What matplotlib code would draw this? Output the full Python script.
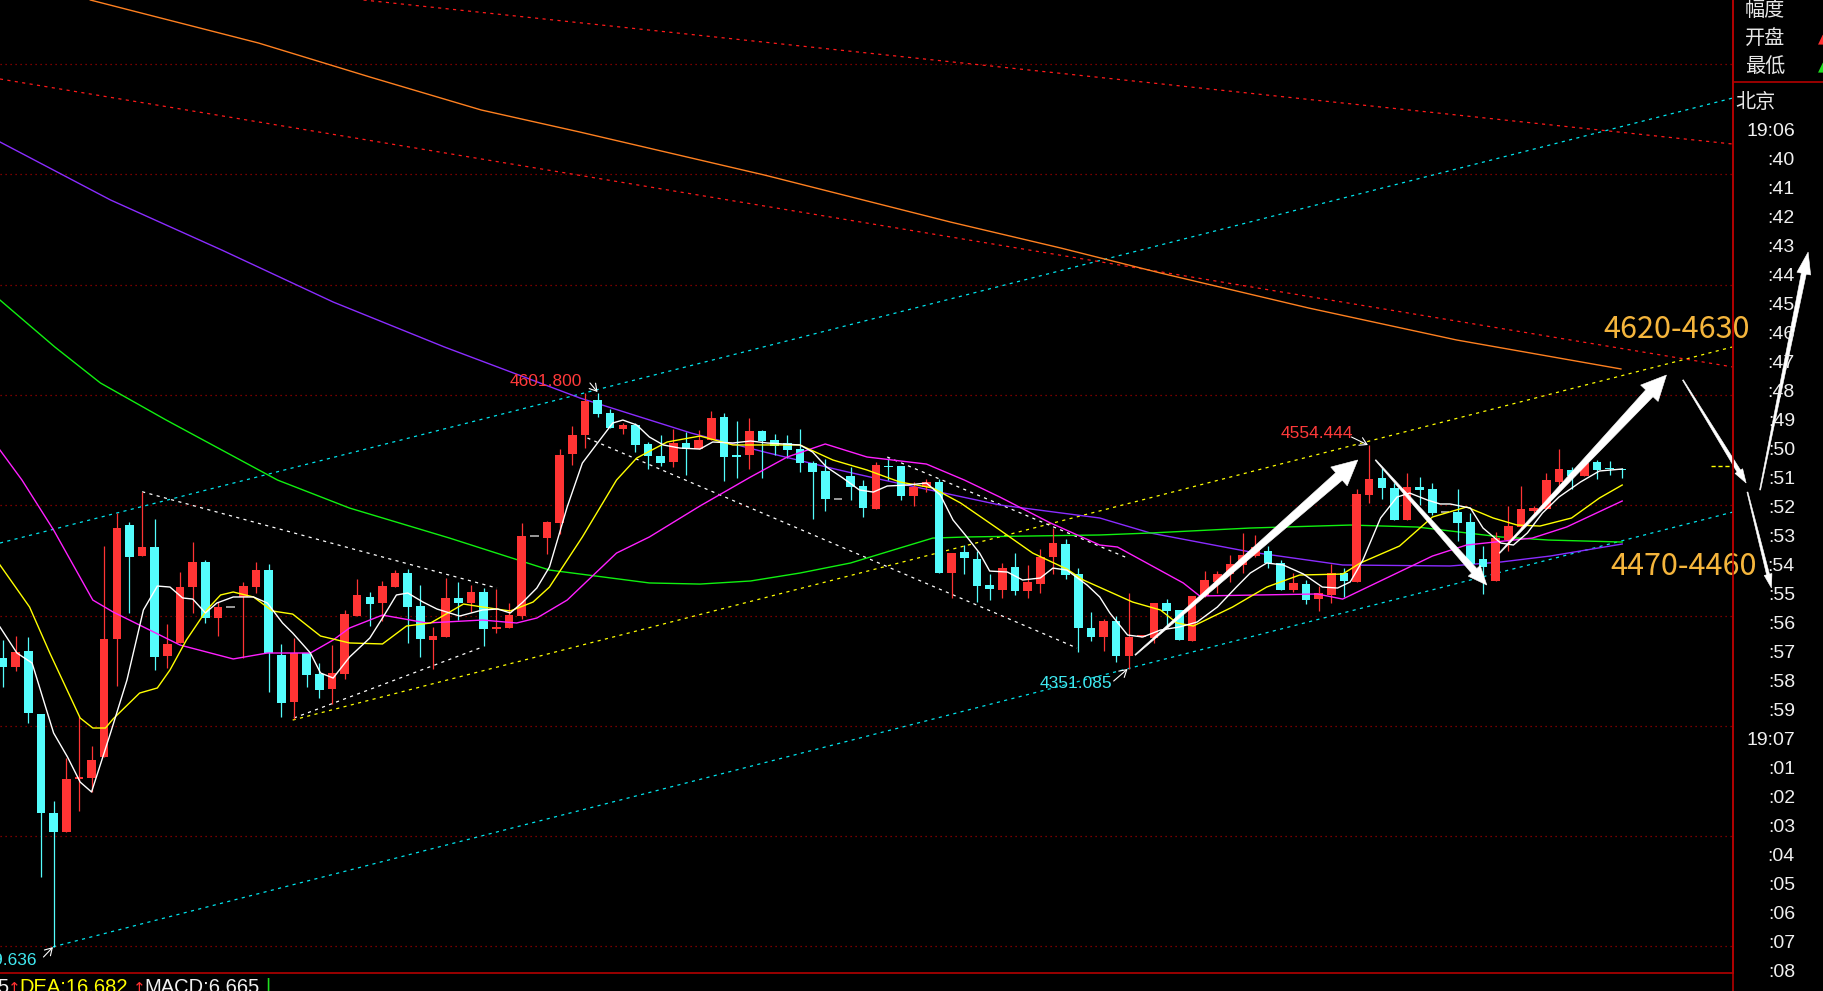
import matplotlib.pyplot as plt
from matplotlib.lines import Line2D
from matplotlib.patches import Polygon
import numpy as np

W, H = 1824, 991

# 1-minute candles, left to right
opens = [4361.2, 4353.0, 4367.8, 4310.7, 4220.7, 4203.4, 4251.5, 4252.9, 4271.4, 4378.7,
         4482.0, 4453.9, 4461.8, 4363.3, 4374.8, 4426.1, 4448.5, 4398.0, 4407.4, 4417.0,
         4426.1, 4441.2, 4364.2, 4321.8, 4366.3, 4347.0, 4333.1, 4347.0, 4399.8, 4416.5,
         4411.6, 4426.1, 4438.2, 4408.6, 4377.8, 4380.8, 4415.6, 4411.0, 4421.3, 4388.0,
         4388.9, 4399.8, 4472.1, 4470.5, 4484.1, 4546.7, 4563.6, 4595.4, 4583.8, 4569.1,
         4572.7, 4555.5, 4544.6, 4539.2, 4556.7, 4550.9, 4559.1, 4579.9, 4545.5, 4545.5,
         4567.3, 4559.1, 4556.7, 4550.7, 4538.0, 4531.0, 4505.6, 4526.5, 4517.4, 4496.8,
         4535.8, 4535.5, 4508.6, 4516.8, 4521.3, 4438.2, 4457.3, 4450.9, 4427.6, 4423.1,
         4444.0, 4422.5, 4428.8, 4453.3, 4464.8, 4437.6, 4388.7, 4380.8, 4395.3, 4363.3,
         4380.2, 4379.9, 4411.0, 4405.0, 4377.1, 4417.7, 4430.6, 4437.6, 4445.8, 4453.9,
         4458.7, 4447.3, 4423.1, 4428.5, 4414.7, 4418.6, 4438.8, 4430.6, 4509.2, 4525.0,
         4515.3, 4486.6, 4516.2, 4514.4, 4493.8, 4493.8, 4484.8, 4450.9, 4431.5, 4468.4,
         4480.5, 4495.0, 4496.3, 4521.3, 4531.9, 4526.5, 4538.9, 4534.0, 4532.8]
highs = [4377.8, 4381.4, 4380.8, 4310.7, 4231.8, 4270.5, 4308.9, 4281.7, 4463.0, 4492.6,
         4485.0, 4512.2, 4487.2, 4392.3, 4439.7, 4466.9, 4450.3, 4412.5, 4407.4, 4430.6,
         4448.8, 4446.7, 4374.1, 4379.3, 4366.3, 4356.7, 4373.2, 4405.0, 4433.1, 4421.3,
         4431.3, 4441.2, 4442.1, 4427.4, 4389.6, 4433.7, 4430.1, 4427.4, 4424.7, 4424.3,
         4411.0, 4483.6, 4472.1, 4485.7, 4550.9, 4571.8, 4601.8, 4601.8, 4586.9, 4574.8,
         4574.2, 4557.6, 4563.6, 4568.8, 4566.6, 4568.2, 4585.4, 4583.6, 4576.3, 4579.3,
         4568.2, 4564.5, 4563.6, 4569.1, 4540.1, 4541.9, 4505.6, 4534.3, 4522.8, 4539.4,
         4543.0, 4535.5, 4521.3, 4523.7, 4523.5, 4456.4, 4463.9, 4458.5, 4437.6, 4447.6,
         4456.4, 4445.5, 4460.3, 4479.0, 4469.1, 4442.8, 4402.9, 4396.5, 4399.5, 4420.7,
         4382.0, 4411.6, 4414.7, 4405.0, 4417.7, 4440.3, 4440.3, 4454.8, 4475.1, 4473.0,
         4463.0, 4450.3, 4438.2, 4432.2, 4427.0, 4446.4, 4443.3, 4514.4, 4554.4, 4533.4,
         4520.4, 4528.9, 4525.8, 4519.8, 4493.8, 4514.4, 4492.6, 4463.0, 4475.4, 4499.3,
         4517.4, 4499.3, 4528.9, 4550.7, 4534.3, 4538.0, 4541.0, 4540.1, 4533.4]
lows = [4335.2, 4349.9, 4302.3, 4163.2, 4099.6, 4203.4, 4223.0, 4240.2, 4271.4, 4336.4,
        4402.0, 4453.9, 4350.6, 4352.1, 4374.8, 4402.0, 4393.5, 4381.7, 4407.4, 4361.2,
        4420.1, 4330.9, 4308.2, 4305.9, 4335.4, 4324.9, 4319.8, 4342.2, 4399.8, 4390.5,
        4395.3, 4425.6, 4375.3, 4362.1, 4351.2, 4380.8, 4395.9, 4403.4, 4372.3, 4383.9,
        4388.9, 4396.5, 4472.1, 4455.5, 4473.6, 4536.4, 4552.1, 4579.7, 4569.7, 4564.5,
        4548.5, 4532.5, 4535.5, 4534.9, 4527.4, 4550.9, 4559.1, 4522.2, 4524.4, 4532.8,
        4524.9, 4545.5, 4542.5, 4530.4, 4487.2, 4495.0, 4505.6, 4504.7, 4489.0, 4496.8,
        4522.8, 4504.7, 4499.5, 4512.0, 4438.8, 4415.6, 4437.6, 4412.5, 4414.0, 4416.1,
        4418.6, 4416.1, 4420.7, 4437.3, 4433.4, 4367.2, 4377.1, 4368.1, 4358.1, 4351.1,
        4380.2, 4375.3, 4390.5, 4377.8, 4377.1, 4417.0, 4420.1, 4430.6, 4438.2, 4453.3,
        4442.8, 4423.1, 4421.0, 4410.4, 4404.3, 4411.6, 4417.0, 4430.6, 4501.7, 4505.3,
        4486.6, 4486.6, 4500.2, 4491.1, 4493.8, 4467.8, 4446.7, 4419.5, 4431.5, 4458.7,
        4478.1, 4489.6, 4496.3, 4516.8, 4514.4, 4526.5, 4523.5, 4527.4, 4524.9]
closes = [4353.0, 4367.2, 4311.9, 4220.7, 4203.4, 4251.5, 4253.3, 4269.0, 4378.4, 4479.0,
          4453.3, 4461.8, 4362.6, 4374.1, 4425.6, 4448.5, 4398.0, 4407.7, 4407.4, 4426.7,
          4441.2, 4366.3, 4320.9, 4365.7, 4346.0, 4332.4, 4347.6, 4401.3, 4418.6, 4410.4,
          4426.7, 4438.5, 4408.0, 4379.0, 4381.4, 4415.6, 4411.6, 4421.3, 4388.0, 4389.3,
          4400.2, 4472.1, 4472.1, 4484.8, 4545.5, 4563.6, 4594.7, 4582.7, 4570.3, 4572.7,
          4554.6, 4544.6, 4538.5, 4556.1, 4550.9, 4559.1, 4579.3, 4543.7, 4543.7, 4567.3,
          4558.2, 4553.9, 4550.0, 4538.0, 4530.4, 4505.3, 4505.6, 4516.8, 4497.7, 4536.4,
          4534.9, 4508.6, 4516.8, 4521.3, 4438.8, 4456.4, 4452.4, 4427.0, 4423.7, 4442.8,
          4422.2, 4430.6, 4453.0, 4465.7, 4437.0, 4388.7, 4380.8, 4395.3, 4363.3, 4380.2,
          4382.0, 4411.6, 4404.1, 4377.8, 4417.7, 4432.2, 4437.6, 4446.7, 4454.8, 4462.4,
          4447.3, 4423.1, 4429.2, 4414.0, 4420.1, 4438.2, 4431.3, 4510.1, 4523.5, 4515.8,
          4486.6, 4516.2, 4513.8, 4493.2, 4493.8, 4484.1, 4446.7, 4443.7, 4470.0, 4481.1,
          4496.3, 4497.2, 4522.8, 4532.5, 4526.5, 4538.0, 4531.9, 4532.5, 4532.2]

# moving averages: (bar position, price)
ma_white = [(-0.24, 4389.6), (1.1, 4366.0), (2.3, 4356.9), (4.0, 4293.5), (5.1, 4271.7), (6.1, 4249.0),
            (7.0, 4240.0), (8.5, 4293.5), (9.8, 4341.5), (11.1, 4405.0), (12.2, 4426.7), (13.2, 4425.8),
            (14.2, 4415.9), (15.0, 4414.9), (16.0, 4402.3), (16.9, 4411.3), (18.2, 4416.8), (19.8, 4416.8),
            (20.9, 4411.3), (22.1, 4393.2), (22.9, 4384.1), (24.3, 4366.0), (25.1, 4347.9), (26.1, 4343.3),
            (27.4, 4362.4), (29.0, 4379.6), (30.0, 4397.7), (31.1, 4418.6), (32.0, 4420.4), (33.2, 4412.2),
            (34.3, 4405.9), (36.1, 4399.5), (37.9, 4405.0), (39.1, 4405.9), (40.1, 4402.3), (41.1, 4412.2),
            (42.2, 4424.9), (43.2, 4444.0), (44.6, 4498.4), (45.8, 4538.2), (47.0, 4556.4), (48.2, 4574.5),
            (49.0, 4577.2), (50.1, 4572.7), (51.1, 4561.8), (52.2, 4554.6), (53.5, 4551.8), (55.1, 4550.9),
            (56.1, 4557.3), (57.7, 4556.4), (59.1, 4558.2), (60.4, 4556.4), (63.0, 4554.6), (64.0, 4548.2),
            (65.1, 4534.6), (66.4, 4524.6), (67.7, 4513.8), (68.8, 4511.9), (69.9, 4517.4), (71.5, 4518.3),
            (73.0, 4520.1), (74.1, 4509.2), (75.1, 4486.6), (76.2, 4471.2), (77.2, 4456.6), (78.0, 4440.3),
            (79.4, 4439.4), (80.6, 4432.2), (82.0, 4434.0), (83.0, 4443.0), (84.1, 4441.2), (85.7, 4427.6),
            (86.7, 4416.8), (87.5, 4402.3), (88.9, 4382.3), (90.1, 4380.5), (91.5, 4386.8), (93.0, 4389.6),
            (94.4, 4394.1), (96.0, 4407.7), (97.5, 4425.8), (98.6, 4438.5), (99.9, 4447.6), (101.2, 4445.8),
            (102.8, 4437.6), (104.3, 4425.8), (105.5, 4424.9), (106.5, 4430.4), (107.5, 4450.3), (108.9, 4488.4),
            (110.2, 4507.4), (111.2, 4511.0), (112.6, 4504.7), (113.6, 4501.1), (114.4, 4501.1), (116.0, 4497.4),
            (117.0, 4479.3), (118.4, 4465.7), (119.4, 4463.9), (120.5, 4474.8), (121.7, 4492.9), (123.0, 4507.4),
            (124.7, 4521.0), (126.2, 4531.0), (128.0, 4532.8)]
ma_yellow = [(-0.24, 4445.8), (2.1, 4407.7), (3.7, 4366.0), (6.1, 4307.1), (7.1, 4298.0), (8.1, 4298.0),
             (8.7, 4306.2), (10.8, 4329.7), (12.2, 4334.3), (13.2, 4350.6), (14.5, 4377.8), (16.1, 4405.0),
             (17.2, 4418.6), (18.2, 4421.3), (19.8, 4416.8), (21.3, 4404.1), (22.9, 4401.3), (25.1, 4381.4),
             (27.4, 4375.1), (30.0, 4374.2), (31.9, 4390.5), (33.8, 4393.2), (36.4, 4410.4), (37.9, 4407.7),
             (40.1, 4404.1), (41.9, 4412.2), (43.2, 4425.8), (45.8, 4471.2), (48.5, 4522.8), (50.1, 4542.8),
             (52.5, 4557.3), (55.1, 4562.7), (57.7, 4554.6), (63.0, 4554.6), (65.6, 4541.0), (68.3, 4531.9),
             (70.9, 4521.0), (73.5, 4515.6), (75.7, 4502.0), (78.8, 4477.5), (81.4, 4456.6), (84.1, 4442.1),
             (85.4, 4432.2), (89.3, 4412.2), (91.5, 4405.0), (92.8, 4393.2), (94.1, 4390.5), (97.2, 4407.7),
             (99.9, 4425.8), (102.5, 4436.7), (105.9, 4437.6), (107.3, 4447.6), (110.4, 4463.0), (113.0, 4489.3),
             (115.7, 4498.4), (117.8, 4488.4), (119.7, 4482.0), (121.5, 4481.1), (124.0, 4488.4), (126.2, 4506.5),
             (128.0, 4518.3)]
ma_magenta = [(-0.24, 4550.0), (1.5, 4522.8), (4.0, 4477.5), (7.1, 4414.0), (8.7, 4403.2), (11.6, 4386.8),
              (14.0, 4373.2), (18.2, 4360.6), (20.9, 4366.0), (24.3, 4366.0), (26.1, 4377.8), (27.4, 4388.7),
              (30.0, 4400.4), (33.5, 4393.2), (37.9, 4395.9), (40.6, 4393.2), (42.2, 4397.7), (44.6, 4414.0),
              (48.5, 4456.6), (51.1, 4471.2), (55.1, 4499.3), (59.1, 4525.6), (62.0, 4543.7), (65.0, 4555.5),
              (68.3, 4543.7), (73.0, 4537.3), (76.0, 4522.8), (78.8, 4507.4), (82.8, 4483.9), (86.7, 4463.9),
              (88.1, 4462.1), (93.3, 4429.5), (94.6, 4417.7), (103.9, 4419.5), (105.9, 4414.9), (113.0, 4453.9),
              (115.7, 4463.9), (120.9, 4470.2), (123.6, 4480.2), (128.0, 4503.8)]
ma_green = [(-0.24, 4686.0), (4.1, 4643.4), (7.7, 4610.8), (12.9, 4577.2), (17.3, 4550.0), (21.7, 4522.8),
            (27.4, 4497.4), (35.3, 4470.2), (43.2, 4441.2), (51.1, 4429.5), (55.1, 4428.5), (59.1, 4431.3),
            (63.0, 4438.5), (67.0, 4447.6), (70.9, 4461.2), (73.5, 4470.2), (76.2, 4471.2), (86.7, 4473.0),
            (90.7, 4474.8), (98.6, 4479.3), (106.5, 4482.0), (111.8, 4480.2), (118.4, 4471.2), (122.2, 4468.4),
            (128.0, 4466.6)]
ma_purple = [(-0.24, 4829.3), (8.5, 4776.7), (17.3, 4731.3), (26.1, 4684.2), (34.9, 4643.4), (45.6, 4597.2),
             (54.4, 4565.4), (60.2, 4548.2), (66.1, 4531.9), (69.6, 4522.8), (78.8, 4500.2), (86.7, 4488.4),
             (90.7, 4474.8), (98.6, 4457.6), (105.9, 4445.8), (114.4, 4444.9), (118.4, 4448.5), (122.3, 4453.9),
             (128.0, 4464.8)]
ma_orange = [(6.9, 4958.0), (20.2, 4919.0), (29.0, 4888.2), (37.8, 4858.3), (45.6, 4838.3), (60.2, 4799.3),
             (74.9, 4756.7), (83.6, 4733.2), (91.5, 4710.5), (103.2, 4678.8), (114.9, 4649.8), (127.9, 4623.5)]

# hand-drawn trend lines: start, end, colour
trend_lines = [
    ((-0.24, 4465.7), (136.76, 4869.2), '#00e5ee'),
    ((3.95, 4099.6), (136.76, 4493.8), '#00e5ee'),
    ((22.9, 4305.2), (136.7, 4643.4), '#ffff00'),
    ((28.5, 4958.0), (136.76, 4827.4), '#ff1a1a'),
    ((-0.24, 4886.4), (136.76, 4625.3), '#ff1a1a'),
    ((11.0, 4512.2), (39.05, 4424.9), '#ffffff'),
    ((23.0, 4307.1), (37.9, 4371.4), '#ffffff'),
    ((46.2, 4560.9), (84.9, 4370.5), '#ffffff'),
    ((69.9, 4543.7), (88.9, 4452.1), '#ffffff'),
]

# price tags: text, position, colour, arrow tail, arrow tip
price_tags = [
    ('4601.800', (45.8, 4611.7), '#ff3a3a', (46.4, 4610.8), (47.0, 4602.6)),
    ('4554.444', (106.7, 4565.4), '#ff3a3a', (106.6, 4561.8), (107.9, 4554.6)),
    ('4351.085', (87.7, 4338.8), '#40e8f0', (87.8, 4340.6), (88.9, 4351.5)),
    ('4099.636', (2.7, 4086.8), '#40e8f0', (3.2, 4090.4), (3.95, 4099.4)),
]

# white forecast arrows: tail, tip, (head length, head width, shaft width) in pixels
big_arrows = [
    ((89.5, 4364.2), (107.1, 4541.0), (25, 25, 10)),
    ((108.5, 4541.0), (117.3, 4427.6), (19, 16, 7)),
    ((118.3, 4456.6), (131.5, 4618.0), (25, 24, 10)),
    ((132.8, 4613.5), (137.8, 4520.1), (14, 9, 4)),
    ((137.9, 4511.9), (139.8, 4424.9), (14, 8, 3)),
    ((138.9, 4513.8), (142.7, 4729.5), (22, 14, 5)),
]

zones = [('4620-4630', (126.5, 4659.7)), ('4470-4460', (127.1, 4444.0))]

time_labels = ['19:06', ':40', ':41', ':42', ':43', ':44', ':45', ':46', ':47', ':48', ':49',
               ':50', ':51', ':52', ':53', ':54', ':55', ':56', ':57', ':58', ':59', '19:07',
               ':01', ':02', ':03', ':04', ':05', ':06', ':07', ':08']

RED = '#ff3434'
CYAN = '#54fcfc'
GRID = '#a00000'
LINE_RED = '#b40000'
NUM_FONT = ['Liberation Sans', 'DejaVu Sans']
CJK_FONT = ['Noto Sans CJK SC', 'DejaVu Sans']

fig = plt.figure(figsize=(W / 100, H / 100), dpi=100, facecolor='black')
ax = fig.add_axes([0, 18 / H, 1733 / W, 973 / H], facecolor='black')
ax.set_xlim(-0.237, 136.76)
ax.set_ylim(4075.9, 4958)
ax.set_xticks([])
ax.set_yticks([])
for side in ['left', 'top']:
    ax.spines[side].set_visible(False)
for side in ['right', 'bottom']:
    ax.spines[side].set_color(LINE_RED)
    ax.spines[side].set_linewidth(1.2)

for p in range(4100, 5000, 100):
    ax.axhline(p, color=GRID, lw=0.9, ls=(0, (1, 3)), zorder=0)

for (x0, y0), (x1, y1), col in trend_lines:
    ax.plot([x0, x1], [y0, y1], color=col, lw=0.9, ls=(0, (2.5, 3.5)), zorder=1)

for line, col in [(ma_orange, '#ff8020'), (ma_purple, '#8a2cff'), (ma_green, '#10f010')]:
    xs, ys = zip(*line)
    ax.plot(xs, ys, color=col, lw=1.0, zorder=2)

# candles
o = np.array(opens)
h = np.array(highs)
l = np.array(lows)
c = np.array(closes)
idx = np.arange(len(o))
flat = c == o
cols = np.where(c > o, RED, CYAN)
m = ~flat
ax.vlines(idx[m], l[m], h[m], colors=cols[m], lw=0.9, zorder=3)
body = np.maximum(np.abs(c - o), 1.2)
ax.bar(idx[m], body[m], bottom=np.minimum(o, c)[m] - (body[m] - np.abs(c - o)[m]) / 2,
       width=0.68, color=cols[m], linewidth=0, zorder=4)
ax.hlines(c[flat], idx[flat] - 0.34, idx[flat] + 0.34, colors='#b4b4b4', lw=1.2, zorder=4)

for line, col in [(ma_magenta, '#ff20ff'), (ma_yellow, '#ffff00'), (ma_white, '#ffffff')]:
    xs, ys = zip(*line)
    ax.plot(xs, ys, color=col, lw=1.0, zorder=5)

# current price marker
ax.plot([135.0, 136.7], [4535.5, 4535.5], color='#ffff00', lw=1, ls=(0, (3, 2)), zorder=5)

for txt, (tx, ty), col, tail, tip in price_tags:
    ax.text(tx, ty, txt, color=col, fontsize=12.5, family=NUM_FONT, ha='right', va='center', zorder=6)
    ax.annotate('', xy=tip, xytext=tail,
                arrowprops=dict(arrowstyle='->,head_length=0.5,head_width=0.3', color='white',
                                lw=0.8, shrinkA=0, shrinkB=0))


def tapered_arrow(tail, tip, head_len, head_w, shaft_w):
    # pointed tail that widens towards the head, built in pixel space
    p0, p1 = ax.transData.transform([tail, tip])
    u = (p1 - p0) / np.hypot(*(p1 - p0))
    n = np.array([-u[1], u[0]])
    base = p1 - u * head_len
    pts = [p0 + n * 0.5, base + n * shaft_w / 2, base + n * head_w / 2, p1,
           base - n * head_w / 2, base - n * shaft_w / 2, p0 - n * 0.5]
    pts = ax.transData.inverted().transform(np.array(pts))
    ax.add_patch(Polygon(pts, closed=True, fc='white', ec='white', lw=0.4,
                         clip_on=False, zorder=7))


for tail, tip, (hl, hw, sw) in big_arrows:
    tapered_arrow(tail, tip, hl, hw, sw)

for txt, (tx, ty) in zones:
    ax.text(tx, ty, txt, color='#f5b53c', fontsize=22, family=CJK_FONT, ha='left', va='center',
            zorder=8, clip_on=False)


def fx(px):
    return px / W


def fy(py):
    return 1 - py / H


# right-hand panel
fig.add_artist(Line2D([fx(1733), fx(1733)], [0, 1], color=LINE_RED, lw=1.2))
fig.add_artist(Line2D([fx(1733), 1], [fy(82), fy(82)], color=LINE_RED, lw=1.2))
for k, name in enumerate(['幅度', '开盘', '最低']):
    fig.text(fx(1745), fy(10 + 28.5 * k), name, color='#e6e6e6', fontsize=14.5,
             family=CJK_FONT, va='center', ha='left')
fig.text(fx(1818), fy(39), '▲', color='#ff3030', fontsize=9, va='center', ha='left')
fig.text(fx(1818), fy(67), '▲', color='#20e020', fontsize=9, va='center', ha='left')
fig.text(fx(1735), fy(102), '北京', color='#e6e6e6', fontsize=14.5, family=CJK_FONT,
         va='center', ha='left')
for k, lab in enumerate(time_labels):
    fig.text(fx(1795), fy(132 + 28.97 * k), lab, color='#f0f0f0', fontsize=14,
             family=NUM_FONT, va='center', ha='right')

# MACD readout, cut off by the bottom edge as in the source screen
macd_parts = [(-3, '5', '#f0f0f0', NUM_FONT, 14.5), (8, '↑', '#ff3030', ['DejaVu Sans'], 11),
              (19, 'DEA:16.682', '#ffff00', NUM_FONT, 14.5), (133, '↑', '#ff3030', ['DejaVu Sans'], 11),
              (144, 'MACD:6.665', '#f0f0f0', NUM_FONT, 14.5), (265, '|', '#20e020', NUM_FONT, 14.5)]
for px, txt, col, fam, fs in macd_parts:
    fig.text(fx(px), fy(993), txt, color=col, fontsize=fs, family=fam,
             va='baseline', ha='left')

fig.savefig('out.png', dpi=100, facecolor='black')
